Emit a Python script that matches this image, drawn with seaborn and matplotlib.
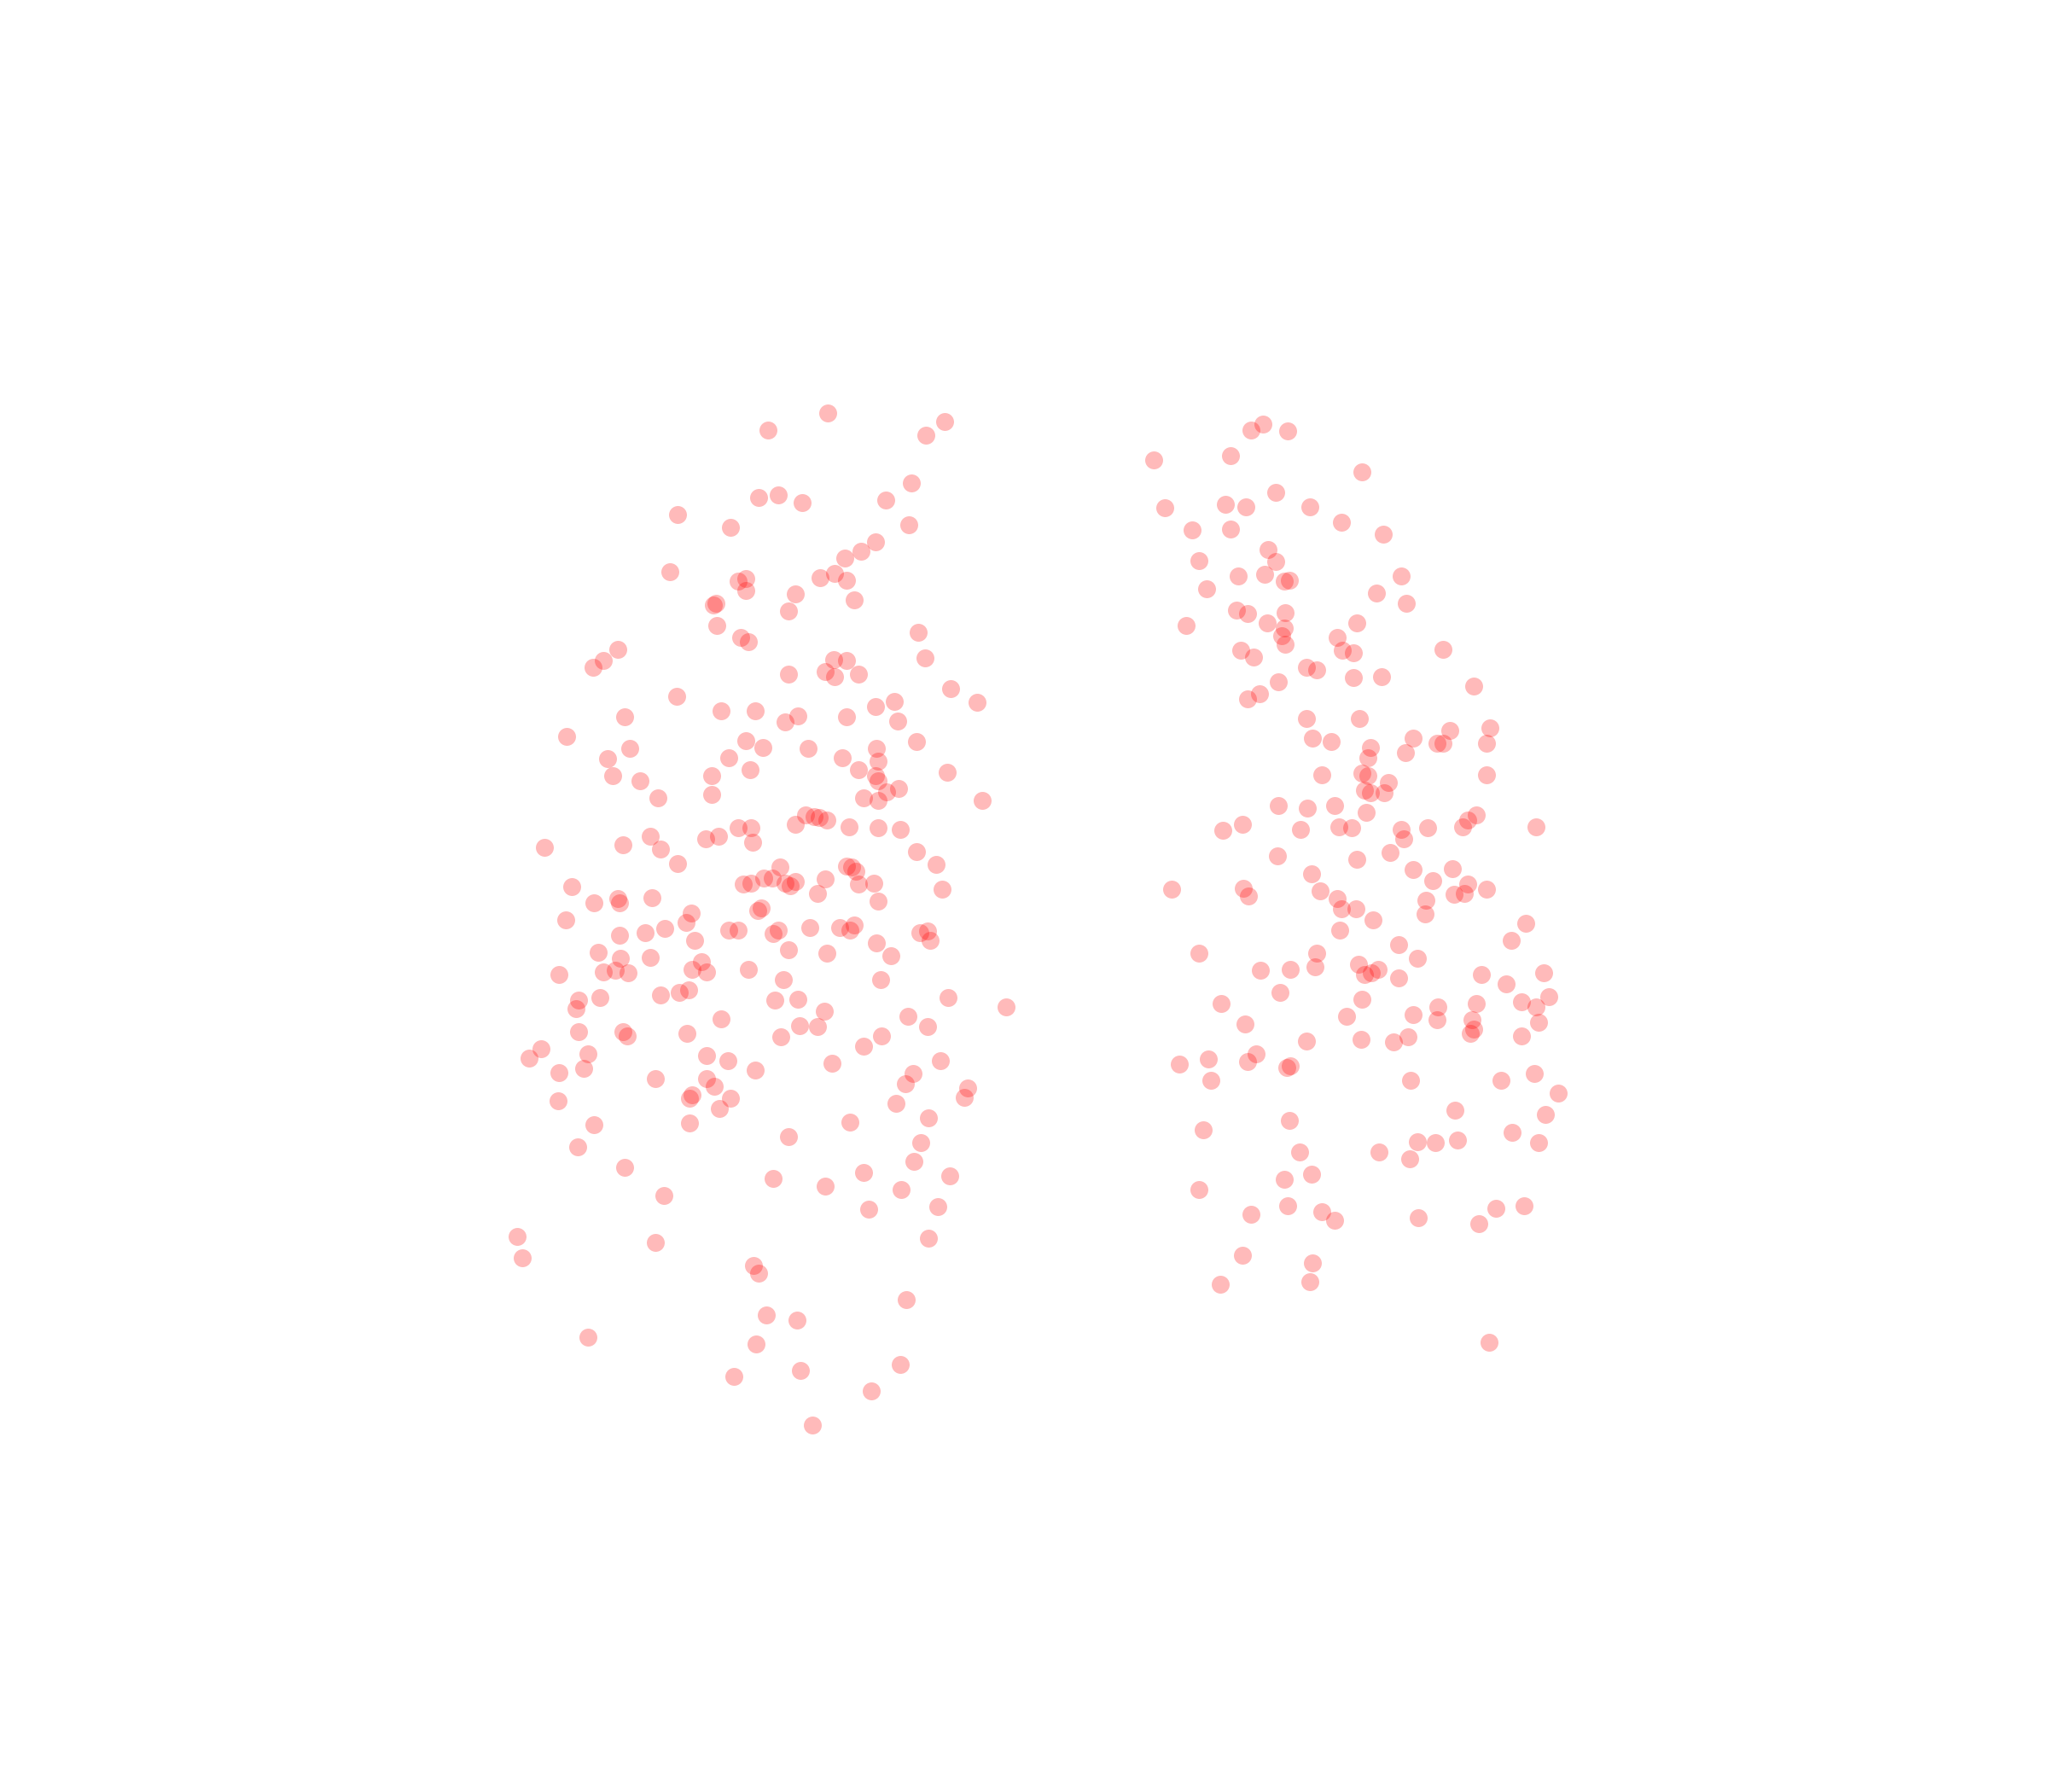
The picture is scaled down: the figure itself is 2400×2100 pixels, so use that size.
import seaborn as sns
import matplotlib.pyplot as plt
import pandas as pd

# point positions (x to the right, y downwards)
left_x = [634, 588, 723, 709, 698, 581, 596, 614, 678, 519, 559, 696, 670, 659, 647, 513, 565, 571, 628, 639,
          648, 571, 609, 546, 548, 654, 604, 549, 703, 567, 573, 473, 462, 454, 708, 638, 648, 632, 604, 639,
          657, 728, 518, 685, 670, 748, 552, 578, 611, 601, 648, 687, 478, 434, 571, 584, 619, 702, 482, 465,
          558, 645, 671, 672, 574, 657, 670, 725, 469, 545, 490, 672, 679, 688, 504, 545, 661, 672, 752, 617,
          623, 627, 633, 609, 650, 672, 689, 565, 575, 576, 540, 550, 498, 506, 477, 417, 519, 597, 591, 569,
          575, 585, 601, 605, 609, 648, 652, 655, 632, 657, 669, 702, 717, 438, 455, 473, 474, 499, 583, 580,
          626, 672, 721, 433, 529, 525, 509, 494, 474, 558, 565, 596, 592, 620, 643, 651, 654, 704, 710, 712,
          532, 458, 498, 475, 428, 462, 471, 481, 530, 537, 541, 573, 604, 633, 671, 682, 600, 674, 520, 506,
          527, 459, 443, 441, 593, 611, 631, 726, 770, 552, 695, 710, 443, 477, 480, 526, 598, 612, 626, 675,
          661, 414, 405, 450, 541, 557, 637, 720, 428, 447, 502, 541, 547, 578, 699, 693, 741, 738, 427, 530,
          528, 559, 551, 686, 711, 455, 528, 651, 604, 442, 705, 700, 478, 592, 632, 661, 727, 690, 508, 665,
          718, 396, 400, 502, 711, 577, 581, 694, 587, 610, 450, 579, 689, 613, 562, 667, 622]
left_y = [316, 329, 323, 333, 370, 381, 379, 385, 383, 394, 404, 402, 415, 422, 427, 438, 445, 443, 442, 439,
          444, 452, 455, 463, 462, 459, 468, 479, 484, 488, 491, 497, 506, 511, 504, 505, 506, 514, 516, 518,
          516, 527, 533, 537, 541, 538, 544, 544, 548, 553, 549, 552, 549, 564, 567, 572, 573, 568, 573, 581,
          580, 580, 573, 583, 589, 589, 594, 591, 594, 594, 598, 598, 606, 604, 611, 608, 611, 613, 613, 624,
          625, 626, 628, 631, 633, 634, 635, 634, 634, 645, 642, 640, 640, 650, 647, 649, 661, 664, 672, 677,
          676, 672, 676, 678, 675, 663, 664, 667, 673, 677, 676, 652, 662, 679, 691, 688, 691, 687, 695, 697,
          684, 690, 681, 704, 699, 706, 711, 714, 716, 712, 712, 712, 715, 710, 710, 712, 708, 714, 713, 720,
          720, 729, 733, 734, 746, 744, 743, 745, 742, 736, 744, 742, 727, 730, 722, 732, 750, 750, 760, 762,
          758, 764, 766, 772, 766, 765, 774, 764, 771, 780, 778, 786, 790, 790, 793, 791, 794, 785, 786, 793,
          801, 803, 810, 807, 808, 812, 814, 812, 821, 818, 826, 826, 832, 819, 822, 830, 833, 840, 843, 838,
          841, 841, 849, 845, 856, 861, 860, 859, 870, 878, 875, 889, 894, 902, 908, 898, 900, 911, 915, 926,
          924, 947, 963, 951, 948, 969, 975, 995, 1007, 1011, 1024, 1029, 1045, 1049, 1054, 1065, 1091]

right_x = [967, 958, 986, 883, 942, 1043, 977, 892, 938, 954, 1003, 1027, 913, 942, 1059, 971, 918, 977, 968, 948,
           983, 987, 1073, 924, 1054, 1077, 947, 955, 984, 970, 983, 981, 984, 908, 1039, 1024, 1028, 1036, 950, 960,
           1105, 1000, 1008, 1036, 1058, 979, 964, 955, 1128, 1000, 1041, 1005, 1019, 1082, 1110, 1141, 1100, 1105, 1138, 1049,
           1076, 1047, 1012, 1043, 1047, 1063, 1045, 1049, 1060, 1138, 979, 1001, 1022, 1046, 1130, 1124, 1120, 1176, 951, 936,
           996, 1025, 1035, 1073, 1093, 1075, 1064, 1039, 978, 1004, 1082, 1112, 1097, 1124, 897, 952, 956, 1011, 1024, 1027,
           1038, 1092, 1113, 1121, 1138, 1091, 1051, 1026, 1168, 1157, 918, 1008, 1071, 1085, 965, 988, 1007, 1040, 1045, 1050,
           1055, 1071, 1134, 1182, 1153, 980, 935, 1043, 1165, 1176, 1186, 1130, 1101, 1031, 1082, 1100, 1127, 1126, 1128, 953,
           1165, 1178, 1000, 1042, 1067, 1078, 925, 903, 962, 955, 985, 988, 927, 1080, 1149, 1175, 1193, 1114, 1183, 987,
           921, 1158, 1178, 995, 1056, 1079, 1085, 1099, 1116, 1004, 983, 918, 958, 986, 1012, 1022, 1086, 1132, 1145, 1167,
           951, 1005, 934, 1003, 1140]
right_y = [325, 329, 330, 352, 349, 361, 377, 389, 386, 388, 388, 400, 406, 405, 409, 421, 429, 430, 440, 441,
           445, 444, 441, 451, 454, 462, 467, 470, 469, 477, 481, 487, 493, 479, 477, 488, 498, 500, 498, 503,
           497, 511, 513, 519, 518, 522, 531, 535, 525, 550, 550, 565, 568, 565, 559, 557, 569, 569, 569, 572,
           576, 580, 593, 592, 594, 599, 605, 607, 607, 593, 617, 619, 617, 622, 624, 628, 633, 633, 631, 636,
           635, 633, 634, 635, 634, 642, 653, 658, 655, 669, 666, 665, 674, 677, 681, 680, 686, 682, 688, 696,
           696, 689, 685, 684, 681, 700, 704, 712, 707, 720, 730, 730, 723, 734, 743, 742, 740, 738, 746, 745,
           742, 749, 746, 745, 753, 760, 768, 765, 767, 771, 763, 768, 771, 778, 777, 781, 781, 791, 788, 784,
           793, 783, 797, 796, 798, 794, 811, 815, 807, 813, 817, 816, 827, 827, 827, 822, 837, 850, 853, 858,
           865, 867, 875, 882, 882, 887, 874, 875, 873, 899, 903, 911, 930, 923, 928, 934, 932, 937, 925, 923,
           961, 967, 983, 981, 1028]

df = pd.DataFrame({"x": left_x + right_x, "y": left_y + right_y})

fig = plt.figure(figsize=(24, 21), dpi=100)
ax = fig.add_axes([0, 0, 1, 1])
sns.scatterplot(data=df, x="x", y="y", color="red", alpha=0.27, s=228, linewidth=0, ax=ax)
ax.set_xlim(0, 1568)
ax.set_ylim(1372, 0)
ax.axis("off")
fig.savefig("out.png", dpi=100)
